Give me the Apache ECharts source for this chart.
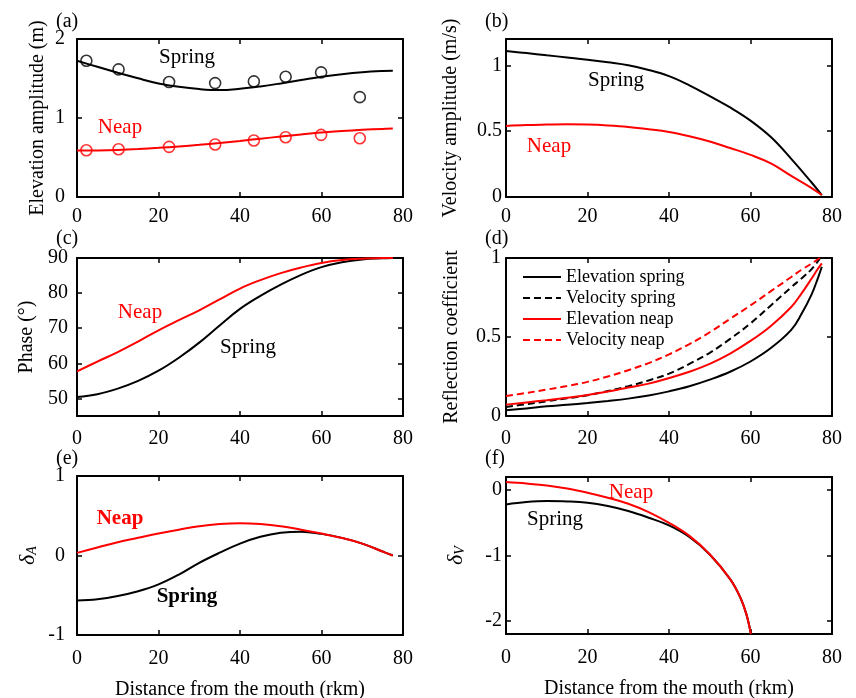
<!DOCTYPE html>
<html>
<head>
<meta charset="UTF-8">
<title>Tidal amplitude, phase and reflection</title>
<script src="https://cdn.jsdelivr.net/npm/echarts@6/dist/echarts.min.js"></script>
<style>
    html, body { margin: 0; padding: 0; background: #fff; }
    #main { width: 856px; height: 698px; }
</style>
</head>
<body>
<div id="main"></div>
<script>
// distance from the mouth (rkm) used by most model curves
var km = [0, 5, 10, 15, 20, 25, 30, 35, 40, 45, 50, 55, 60, 65, 70, 75, 77.5];

// (a) elevation amplitude (m)
var elevSpring = [1.725, 1.648, 1.573, 1.502, 1.438, 1.395, 1.366, 1.353, 1.37, 1.40, 1.438, 1.48, 1.522, 1.555, 1.58, 1.595, 1.598];
var elevNeap = [0.588, 0.59, 0.596, 0.607, 0.622, 0.64, 0.66, 0.684, 0.71, 0.738, 0.765, 0.792, 0.816, 0.835, 0.85, 0.862, 0.867];
var obsKm = [2.3, 10.2, 22.6, 33.9, 43.4, 51.2, 59.9, 69.4];
var obsSpring = [1.725, 1.615, 1.455, 1.442, 1.463, 1.522, 1.577, 1.264];
var obsNeap = [0.592, 0.605, 0.634, 0.664, 0.715, 0.757, 0.786, 0.744];

// (b) velocity amplitude (m/s)
var velSpring = [1.109, 1.093, 1.076, 1.06, 1.043, 1.023, 1.0, 0.965, 0.918, 0.848, 0.766, 0.68, 0.58, 0.455, 0.29, 0.11, 0.015];
var velNeap = [0.54, 0.547, 0.55, 0.552, 0.55, 0.543, 0.532, 0.515, 0.494, 0.462, 0.422, 0.372, 0.32, 0.255, 0.16, 0.068, 0.015];

// (c) phase (deg)
var phaseNeap = [57.7, 60.5, 63.2, 66.2, 69.4, 72.3, 75.1, 78.2, 81.3, 83.7, 85.7, 87.3, 88.6, 89.4, 89.8, 90, 90];
var phaseSpring = [50.4, 51.2, 52.8, 55.0, 57.9, 61.6, 65.9, 70.8, 75.5, 79.2, 82.4, 85.2, 87.4, 88.8, 89.6, 89.9, 90];

// (d) reflection coefficient
var kmReflElev = [0, 5, 10, 15, 20, 25, 30, 35, 40, 45, 50, 55, 60, 65, 70, 72.5, 75, 76.5, 77.5];
var reflElevSpring = [0.036, 0.048, 0.061, 0.071, 0.082, 0.095, 0.11, 0.13, 0.156, 0.188, 0.23, 0.28, 0.345, 0.43, 0.545, 0.645, 0.77, 0.87, 0.945];
var reflElevNeap = [0.072, 0.086, 0.10, 0.116, 0.133, 0.155, 0.18, 0.205, 0.24, 0.28, 0.33, 0.395, 0.475, 0.57, 0.69, 0.775, 0.87, 0.93, 0.966];
var kmReflVel = [0, 5, 10, 15, 20, 25, 30, 35, 40, 45, 50, 55, 60, 65, 70, 72.5, 75, 77];
var reflVelSpring = [0.057, 0.075, 0.093, 0.112, 0.131, 0.158, 0.188, 0.225, 0.268, 0.33, 0.40, 0.488, 0.586, 0.70, 0.815, 0.87, 0.93, 0.995];
var reflVelNeap = [0.127, 0.146, 0.167, 0.19, 0.216, 0.25, 0.29, 0.335, 0.39, 0.455, 0.53, 0.615, 0.70, 0.79, 0.88, 0.925, 0.965, 1.0];

// (e) delta A
var deltaANeap = [0.033, 0.10, 0.167, 0.222, 0.276, 0.325, 0.368, 0.395, 0.406, 0.395, 0.368, 0.325, 0.276, 0.22, 0.15, 0.05, 0];
var deltaASpring = [-0.565, -0.55, -0.51, -0.45, -0.364, -0.24, -0.092, 0.035, 0.15, 0.235, 0.285, 0.30, 0.272, 0.222, 0.15, 0.05, 0];

// (f) delta V
var kmDeltaV = [0, 5, 10, 15, 20, 25, 30, 35, 40, 45, 50, 55, 57.5, 59, 60.1];
var deltaVNeap = [0.122, 0.10, 0.071, 0.025, -0.04, -0.117, -0.209, -0.336, -0.5, -0.70, -0.98, -1.36, -1.64, -1.9, -2.2];
var deltaVSpring = [-0.219, -0.183, -0.168, -0.173, -0.193, -0.244, -0.32, -0.422, -0.54, -0.717, -0.985, -1.362, -1.642, -1.9, -2.2];

// tick labels
var xTicks = [0, 20, 40, 60, 80];
var yTicksA = [0, 1, 2];
var yTicksB = [0, 0.5, 1];
var yTicksC = [50, 60, 70, 80, 90];
var yTicksD = [0, 0.5, 1];
var yTicksE = [-1, 0, 1];
var yTicksF = [-2, -1, 0];

var FONT = 'Liberation Serif';
var RED = '#ff0000';

function pairs(xs, ys) {
    return xs.map(function (x, i) { return [x, ys[i]]; });
}

var chart = echarts.init(document.getElementById('main'));

var grids = [
    {left: 77, top: 39, width: 326, height: 158},
    {left: 506, top: 39, width: 326, height: 158},
    {left: 77, top: 258, width: 326, height: 158},
    {left: 506, top: 258, width: 326, height: 158},
    {left: 77, top: 476, width: 326, height: 159},
    {left: 506, top: 477, width: 326, height: 157}
].map(function (g) {
    g.outerBoundsMode = 'none';
    g.containLabel = false;
    return g;
});

// x label margin per row
var xMargins = [10, 10, 13, 13, 14, 14];

var yDefs = [
    {min: 0, max: 2, ticks: yTicksA, name: 'Elevation amplitude (m)', gap: 29, margin: 12},
    {min: 0, max: 1.2, ticks: yTicksB, name: 'Velocity amplitude (m/s)', gap: 45, margin: 4},
    {min: 45, max: 90, ticks: yTicksC, name: 'Phase (°)', gap: 40, margin: 9},
    {min: 0, max: 1, ticks: yTicksD, name: 'Reflection coefficient', gap: 44, margin: 5},
    {min: -1, max: 1, ticks: yTicksE, name: '{d|δ}{s|A}', gap: 38, margin: 12},
    {min: -2.2, max: 0.2, ticks: yTicksF, name: '{d|δ}{s|V}', gap: 39, margin: 4}
];

var lineAxis = {show: true, onZero: false, lineStyle: {color: '#000', width: 2}};
var tickStyle = {show: true, inside: true, length: 5, lineStyle: {color: '#000', width: 1.5}};
var labelStyle = {fontFamily: FONT, fontSize: 20, color: '#000'};

var xAxis = [], yAxis = [];
grids.forEach(function (g, i) {
    var bottom = {
        type: 'value', gridIndex: i, position: 'bottom', min: 0, max: 80, interval: 20,
        axisLine: lineAxis, axisTick: tickStyle, splitLine: {show: false},
        axisLabel: Object.assign({margin: xMargins[i], customValues: xTicks}, labelStyle)
    };
    if (i >= 4) {
        bottom.name = 'Distance from the mouth (rkm)';
        bottom.nameLocation = 'middle';
        bottom.nameGap = 45;
        bottom.nameTextStyle = {fontFamily: FONT, fontSize: 20, color: '#000'};
    }
    xAxis.push(bottom);
    xAxis.push({
        type: 'value', gridIndex: i, position: 'top', min: 0, max: 80, interval: 20,
        axisLine: lineAxis, axisTick: tickStyle, splitLine: {show: false},
        axisLabel: {show: false}
    });

    var d = yDefs[i];
    yAxis.push({
        type: 'value', gridIndex: i, position: 'left', min: d.min, max: d.max,
        axisLine: lineAxis, splitLine: {show: false},
        axisTick: Object.assign({customValues: d.ticks}, tickStyle),
        axisLabel: Object.assign({margin: d.margin, customValues: d.ticks}, labelStyle),
        name: d.name, nameLocation: 'middle', nameGap: d.gap,
        nameTextStyle: {
            fontFamily: FONT, fontSize: 20, color: '#000',
            rich: {
                d: {fontFamily: FONT, fontSize: 22, fontStyle: 'italic', color: '#000'},
                s: {fontFamily: FONT, fontSize: 14, fontStyle: 'italic', color: '#000', verticalAlign: 'bottom', padding: [8, 0, 0, 0]}
            }
        }
    });
    yAxis.push({
        type: 'value', gridIndex: i, position: 'right', min: d.min, max: d.max,
        axisLine: lineAxis, splitLine: {show: false},
        axisTick: Object.assign({customValues: d.ticks}, tickStyle),
        axisLabel: {show: false}
    });
});

function curve(i, name, xs, ys, color, dashed) {
    return {
        type: 'line', name: name, xAxisIndex: 2 * i, yAxisIndex: 2 * i,
        data: pairs(xs, ys), showSymbol: false, symbol: 'none',
        smooth: 0.4, silent: true,
        lineStyle: {color: color, width: 2, type: dashed ? [7, 4] : 'solid'},
        itemStyle: {color: color}
    };
}

function circles(i, name, xs, ys, color) {
    return {
        type: 'scatter', name: name, xAxisIndex: 2 * i, yAxisIndex: 2 * i,
        data: pairs(xs, ys), symbol: 'circle', symbolSize: 11, silent: true,
        itemStyle: {color: 'rgba(0,0,0,0)', borderColor: color, borderWidth: 1.6}
    };
}

var series = [
    curve(0, 'a spring', km, elevSpring, '#000'),
    curve(0, 'a neap', km, elevNeap, RED),
    circles(0, 'a obs spring', obsKm, obsSpring, '#000'),
    circles(0, 'a obs neap', obsKm, obsNeap, RED),
    curve(1, 'b spring', km, velSpring, '#000'),
    curve(1, 'b neap', km, velNeap, RED),
    curve(2, 'c spring', km, phaseSpring, '#000'),
    curve(2, 'c neap', km, phaseNeap, RED),
    curve(3, 'Elevation spring', kmReflElev, reflElevSpring, '#000'),
    curve(3, 'Velocity spring', kmReflVel, reflVelSpring, '#000', true),
    curve(3, 'Elevation neap', kmReflElev, reflElevNeap, RED),
    curve(3, 'Velocity neap', kmReflVel, reflVelNeap, RED, true),
    curve(4, 'e spring', km, deltaASpring, '#000'),
    curve(4, 'e neap', km, deltaANeap, RED),
    curve(5, 'f spring', kmDeltaV, deltaVSpring, '#000'),
    curve(5, 'f neap', kmDeltaV, deltaVNeap, RED)
];

function txt(x, y, s, color, size, bold, align) {
    return {
        type: 'text', x: x, y: y, silent: true,
        style: {
            text: s, fill: color || '#000', fontFamily: FONT, fontSize: size || 21,
            fontWeight: bold ? 'bold' : 'normal',
            align: align || 'center', verticalAlign: 'middle'
        }
    };
}

var graphics = [
    txt(56, 22, '(a)', '#000', 20, false, 'left'),
    txt(485, 22, '(b)', '#000', 20, false, 'left'),
    txt(56, 239, '(c)', '#000', 20, false, 'left'),
    txt(485, 239, '(d)', '#000', 20, false, 'left'),
    txt(56, 459, '(e)', '#000', 20, false, 'left'),
    txt(485, 459, '(f)', '#000', 20, false, 'left'),
    txt(187, 57, 'Spring', '#000'),
    txt(120, 127, 'Neap', RED),
    txt(616, 80, 'Spring', '#000'),
    txt(549, 146, 'Neap', RED),
    txt(140, 312, 'Neap', RED),
    txt(248, 347, 'Spring', '#000'),
    txt(120, 519, 'Neap', RED, 21, true),
    txt(187, 597, 'Spring', '#000', 21, true),
    txt(631, 492, 'Neap', RED),
    txt(555, 519, 'Spring', '#000')
];

var option = {
    animation: false,
    backgroundColor: '#fff',
    grid: grids,
    xAxis: xAxis,
    yAxis: yAxis,
    legend: {
        data: ['Elevation spring', 'Velocity spring', 'Elevation neap', 'Velocity neap'],
        orient: 'vertical', left: 522, top: 268, padding: 0,
        itemWidth: 38, itemHeight: 12, itemGap: 3,
        selectedMode: false,
        itemStyle: {opacity: 0},
        textStyle: {fontFamily: FONT, fontSize: 18, color: '#000'}
    },
    graphic: graphics,
    series: series
};

chart.setOption(option);
</script>
</body>
</html>
